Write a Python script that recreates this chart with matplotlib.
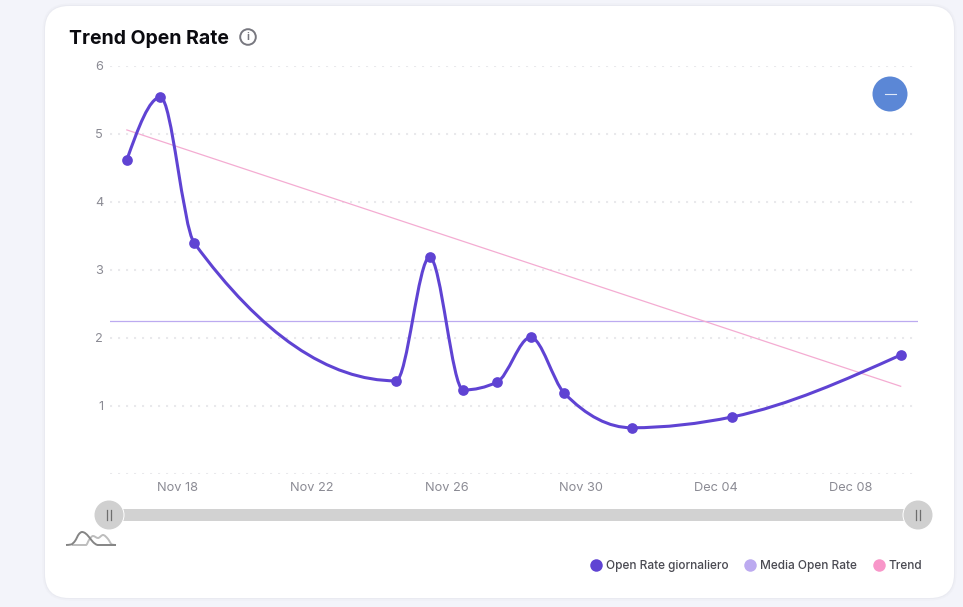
import numpy as np
import pandas as pd
import matplotlib
matplotlib.use('Agg')
import matplotlib.pyplot as plt
import matplotlib.dates as mdates
from matplotlib.lines import Line2D
from matplotlib.patches import Circle, FancyBboxPatch, PathPatch, Rectangle
from matplotlib.path import Path

plt.rcParams['font.family'] = ['Inter', 'DejaVu Sans']

W, H = 963, 607

# chart data
dates = ['2024-11-16 12:00', '2024-11-17 12:00', '2024-11-18 12:00', '2024-11-24 12:00',
         '2024-11-25 12:00', '2024-11-26 12:00', '2024-11-27 12:00', '2024-11-28 12:00',
         '2024-11-29 12:00', '2024-12-01 12:00', '2024-12-04 12:00', '2024-12-09 12:00']
open_rate = [4.62, 5.54, 3.40, 1.37, 3.19, 1.235, 1.35, 2.01, 1.19, 0.68, 0.84, 1.75]
media_open_rate = 2.25
trend_values = [5.06, 1.29]
y_ticks = [0, 1, 2, 3, 4, 5, 6]
y_labels = ['', '1', '2', '3', '4', '5', '6']
x_ticks = ['2024-11-18', '2024-11-22', '2024-11-26', '2024-11-30', '2024-12-04', '2024-12-08']
x_range = ['2024-11-16', '2024-12-10']
title = 'Trend Open Rate'
series_names = ['Open Rate giornaliero', 'Media Open Rate', 'Trend']

# thumbnail icon of the range slider
icon_dark_x = [66, 71, 75, 79, 82, 85, 89, 93, 98, 116]
icon_dark_y = [545, 544.5, 541, 534, 532, 533, 537, 542, 545, 545]
icon_light_x = [72, 86, 89, 93, 98, 103, 108, 112, 116]
icon_light_y = [545, 545, 540, 536, 538, 535, 539, 544.5, 545]

PURPLE = '#5f43d3'
LILAC = '#bcaaf0'
PINK = '#f896c9'
GREY = '#8b8b94'


def monotone_path(x, y):
    # same bezier segments as d3 curveMonotoneX
    x = np.asarray(x, dtype=float)
    y = np.asarray(y, dtype=float)
    h = np.diff(x)
    s = np.diff(y) / h
    t = np.zeros(len(x))
    for i in range(1, len(x) - 1):
        p = (s[i-1] * h[i] + s[i] * h[i-1]) / (h[i-1] + h[i])
        t[i] = (np.sign(s[i-1]) + np.sign(s[i])) * min(abs(s[i-1]), abs(s[i]), 0.5 * abs(p))
    t[0] = (3 * s[0] - t[1]) / 2
    t[-1] = (3 * s[-1] - t[-2]) / 2
    verts = [(x[0], y[0])]
    codes = [Path.MOVETO]
    for i in range(len(h)):
        d = h[i] / 3
        verts += [(x[i] + d, y[i] + d * t[i]), (x[i+1] - d, y[i+1] - d * t[i+1]), (x[i+1], y[i+1])]
        codes += [Path.CURVE4] * 3
    return Path(verts, codes)


fig = plt.figure(figsize=(W / 100, H / 100), dpi=100, facecolor='#f3f4fa')

# page layer in pixel coordinates
bg = fig.add_axes([0, 0, 1, 1])
bg.set_xlim(0, W)
bg.set_ylim(H, 0)
bg.axis('off')

for grow, col in [(2.5, '#eff0f6'), (1, '#e9eaf1')]:
    bg.add_patch(FancyBboxPatch((45 + 24, 6 + 24), 909 - 48, 592 - 48,
                                boxstyle='round,pad=%g,rounding_size=%g' % (24 + grow, 24 + grow),
                                fc=col, ec='none'))
bg.add_patch(FancyBboxPatch((45 + 24, 6 + 24), 909 - 48, 592 - 48,
                            boxstyle='round,pad=24,rounding_size=24', fc='white', ec='none'))

bg.text(69, 38.5, title, fontsize=14, fontweight='bold', color='#0b0b10', va='center', ha='left')
bg.add_patch(Circle((248, 37), 7.8, fc='none', ec='#77777f', lw=1.4))
bg.text(248, 37.5, 'i', fontsize=7.5, fontweight='bold', color='#77777f', ha='center', va='center')

# range slider
bg.add_patch(Rectangle((118, 509), 787, 12, fc='#d2d2d2', ec='none'))
for cx in [109, 918]:
    bg.add_patch(Circle((cx, 515), 15.5, fc='white', ec='none'))
    bg.add_patch(Circle((cx, 515), 14.5, fc='#d0d0d0', ec='none'))
    bg.plot([cx - 1.8, cx - 1.8], [510, 520], color='#6e6e6e', lw=0.9)
    bg.plot([cx + 1.8, cx + 1.8], [510, 520], color='#6e6e6e', lw=0.9)

bg.add_patch(PathPatch(monotone_path(icon_light_x, icon_light_y), fc='none', ec='#bdbdbd', lw=1.4))
bg.add_patch(PathPatch(monotone_path(icon_dark_x, icon_dark_y), fc='none', ec='#858585', lw=1.4))

# the chart itself
ax = fig.add_axes([110 / W, 1 - 474 / H, (917.5 - 110) / W, (474 - 66) / H])
ax.patch.set_alpha(0)
when = mdates.date2num(pd.to_datetime(dates))
ax.set_xlim(mdates.date2num(pd.to_datetime(x_range)))
ax.set_ylim(0, 6)
for side in ax.spines.values():
    side.set_visible(False)

ax.set_yticks(y_ticks, y_labels)
ax.set_xticks(mdates.date2num(pd.to_datetime(x_ticks)))
ax.xaxis.set_major_formatter(mdates.DateFormatter('%b %d'))
ax.tick_params(length=0, labelsize=9.2, labelcolor=GREY)
ax.tick_params(axis='x', pad=6)
ax.tick_params(axis='y', pad=5)
ax.grid(axis='y', color='#e9e9ec', lw=1.5, linestyle=(0, (1, 2.84)), dash_capstyle='butt')
ax.set_axisbelow(True)

ax.axhline(media_open_rate, color=LILAC, lw=0.9, zorder=2)
ax.plot(when[[0, -1]], trend_values, color='#f4acd2', lw=0.9, zorder=2)
ax.add_patch(PathPatch(monotone_path(when, open_rate), fc='none', ec=PURPLE, lw=2.2, zorder=3))
ax.plot(when, open_rate, ls='none', marker='o', ms=7.7, mfc=PURPLE, mec='none', zorder=4, clip_on=False)

# zoom-out button sits on top of the plot
top = fig.add_axes([0, 0, 1, 1])
top.set_xlim(0, W)
top.set_ylim(H, 0)
top.axis('off')
top.add_patch(Circle((890, 94), 17.5, fc='#5b87d6', ec='none'))
top.plot([884.5, 895.5], [94, 94], color='#dfe8f8', lw=0.8)

handles = [Line2D([], [], ls='none', marker='o', ms=9, mfc=c, mec='none') for c in [PURPLE, LILAC, PINK]]
leg = top.legend(handles, series_names, ncol=3, frameon=False, labelcolor='#4a4a52',
                 prop={'size': 8.55, 'weight': 'medium'},
                 loc='center right', bbox_to_anchor=(922.5 / W, 1 - 566 / H), bbox_transform=fig.transFigure,
                 handlelength=0.9, handletextpad=0.42, columnspacing=1.35, borderpad=0, borderaxespad=0)

fig.savefig('out.png', dpi=100, facecolor=fig.get_facecolor())
